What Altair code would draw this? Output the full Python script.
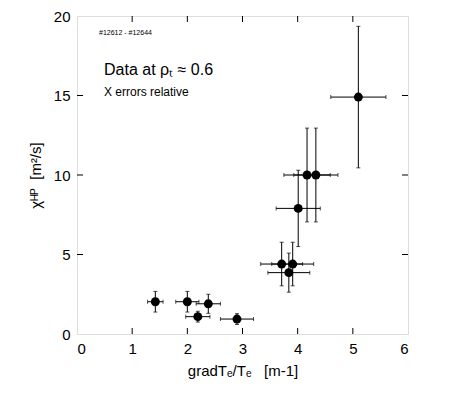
import altair as alt
import pandas as pd

# data
xs = [1.42, 2.00, 2.19, 2.38, 2.90, 3.71, 3.91, 3.84, 4.01, 4.17, 4.33, 5.10]
ys = [2.03, 2.03, 1.09, 1.90, 0.94, 4.40, 4.40, 3.86, 7.90, 10.0, 10.0, 14.9]
xerr = [0.14, 0.21, 0.22, 0.22, 0.30, 0.38, 0.38, 0.38, 0.40, 0.42, 0.40, 0.50]
yerr = [0.65, 0.65, 0.34, 0.60, 0.34, 1.37, 1.37, 1.23, 2.40, 2.95, 2.95, 4.45]

x_ticks = [1, 2, 3, 4, 5]
y_ticks = [5, 10, 15]

W, H = 331, 318
FONT = "Liberation Sans"
NB = "\u00a0"

df = pd.DataFrame({"x": xs, "y": ys, "xe": xerr, "ye": yerr})
df["xlo"] = df.x - df.xe
df["xhi"] = df.x + df.xe
df["ylo"] = df.y - df.ye
df["yhi"] = df.y + df.ye

ycaps = pd.DataFrame({"x": xs + xs, "y": list(df.ylo) + list(df.yhi)})
xcaps = pd.DataFrame({"x": list(df.xlo) + list(df.xhi), "y": ys + ys})

xsc = alt.Scale(domain=[0, 6], nice=False, zero=False)
ysc = alt.Scale(domain=[0, 20], nice=False, zero=False)

xaxis = alt.Axis(values=[0, 1, 2, 3, 4, 5, 6], format="d", ticks=False, grid=False, domain=False,
                 labelFontSize=15, labelPadding=7, labelColor="black", labelFont=FONT,
                 title="gradTₑ/Tₑ" + NB * 3 + "[m-1]", titleFontSize=15, titleFont=FONT,
                 titleFontWeight="normal", titleColor="black", titlePadding=7)
yaxis = alt.Axis(values=[0, 5, 10, 15, 20], format="d", ticks=False, grid=False, domain=False,
                 labelFontSize=15, labelPadding=7, labelColor="black", labelFont=FONT,
                 title="χᴴᴾ" + NB * 2 + "[m²/s]", titleFontSize=15, titleFont=FONT,
                 titleFontWeight="normal", titleColor="black", titlePadding=10)

base = alt.Chart(df)

pts = base.mark_point(filled=True, color="black", size=80, opacity=1).encode(
    x=alt.X("x:Q", scale=xsc, axis=xaxis),
    y=alt.Y("y:Q", scale=ysc, axis=yaxis),
)
vbar = base.mark_rule(color="black", strokeWidth=1).encode(
    x=alt.X("x:Q", scale=xsc), y=alt.Y("ylo:Q", scale=ysc), y2="yhi:Q")
hbar = base.mark_rule(color="black", strokeWidth=1).encode(
    x=alt.X("xlo:Q", scale=xsc), x2="xhi:Q", y=alt.Y("y:Q", scale=ysc))
vcap = alt.Chart(ycaps).mark_tick(orient="horizontal", color="black", size=4, thickness=1).encode(
    x=alt.X("x:Q", scale=xsc), y=alt.Y("y:Q", scale=ysc))
hcap = alt.Chart(xcaps).mark_tick(orient="vertical", color="black", size=4, thickness=1).encode(
    x=alt.X("x:Q", scale=xsc), y=alt.Y("y:Q", scale=ysc))

xt = pd.DataFrame({"v": x_ticks})
yt = pd.DataFrame({"v": y_ticks})
tick_b = alt.Chart(xt).mark_rule(color="black", strokeWidth=1).encode(
    x=alt.X("v:Q", scale=xsc), y=alt.value(H), y2=alt.value(H - 6))
tick_t = alt.Chart(xt).mark_rule(color="black", strokeWidth=1).encode(
    x=alt.X("v:Q", scale=xsc), y=alt.value(0), y2=alt.value(6))
tick_l = alt.Chart(yt).mark_rule(color="black", strokeWidth=1).encode(
    y=alt.Y("v:Q", scale=ysc), x=alt.value(0), x2=alt.value(6))
tick_r = alt.Chart(yt).mark_rule(color="black", strokeWidth=1).encode(
    y=alt.Y("v:Q", scale=ysc), x=alt.value(W - 6), x2=alt.value(W))

ann = pd.DataFrame({"t": ["#12612 - #12644", "Data at ρₜ ≈ 0.6", "X errors relative"],
                    "px": [22, 27, 27], "py": [17, 54, 76], "fs": [7, 16, 12]})
texts = []
for i in range(len(ann)):
    r = ann.iloc[i]
    texts.append(
        alt.Chart(pd.DataFrame({"t": [r.t]})).mark_text(
            align="left", baseline="middle", font=FONT, fontSize=float(r.fs), color="black"
        ).encode(text="t:N", x=alt.value(float(r.px)), y=alt.value(float(r.py)))
    )

chart = alt.layer(vbar, hbar, vcap, hcap, pts, tick_b, tick_t, tick_l, tick_r, *texts).properties(
    width=W, height=H,
    autosize=alt.AutoSizeParams(type="none"),
    padding={"left": 69, "top": 8, "right": 40, "bottom": 50},
).configure_view(stroke="black", strokeWidth=1.5).configure(background="white")

chart.save("out.html", embed_options={"renderer": "svg", "actions": False})
